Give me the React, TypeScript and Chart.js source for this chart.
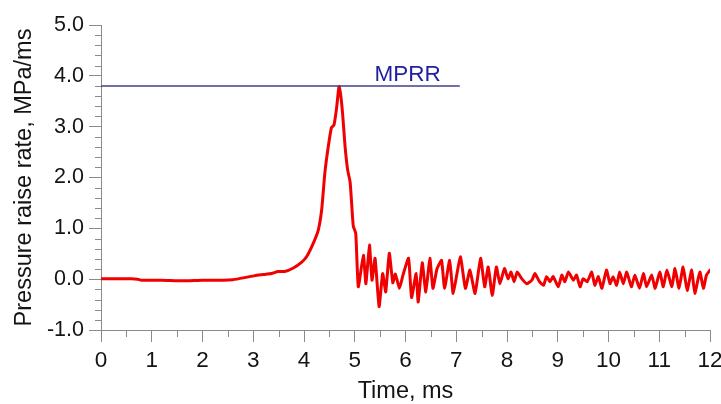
import { useEffect, useRef } from "react";
import { Chart, registerables } from "chart.js";

Chart.register(...registerables);

// Time axis (ms) and pressure raise rate (MPa/ms)
const timeMs = [
  0.0, 0.3, 0.6, 0.72, 0.8, 1.2, 1.6, 2.0, 2.4, 2.6, 2.83, 3.03, 3.2, 3.36, 3.49, 3.62, 3.79, 3.95,
  4.05, 4.18, 4.28, 4.35, 4.41, 4.47, 4.54, 4.59, 4.64, 4.69, 4.72, 4.76, 4.81, 4.86, 4.91, 4.97,
  5.02, 5.07, 5.17, 5.22, 5.29, 5.34, 5.40, 5.48, 5.55, 5.61, 5.68, 5.75, 5.80, 5.88, 5.95, 6.06,
  6.12, 6.21, 6.25, 6.33, 6.40, 6.48, 6.54, 6.62, 6.71, 6.77, 6.87, 6.94, 7.08, 7.18, 7.27, 7.37,
  7.48, 7.56, 7.63, 7.71, 7.79, 7.86, 7.95, 8.02, 8.08, 8.14, 8.20, 8.29, 8.39, 8.49, 8.55, 8.64,
  8.72, 8.78, 8.85, 8.91, 9.01, 9.08, 9.14, 9.21, 9.31, 9.37, 9.44, 9.50, 9.58, 9.67, 9.73, 9.80,
  9.87, 9.96, 10.03, 10.09, 10.16, 10.22, 10.29, 10.36, 10.45, 10.52, 10.61, 10.69, 10.75, 10.85,
  10.92, 11.01, 11.08, 11.15, 11.25, 11.31, 11.39, 11.47, 11.55, 11.64, 11.70, 11.80, 11.87, 11.93,
  12.0,
];
const riseRate = [
  0.01, 0.01, 0.01, 0.0, -0.02, -0.02, -0.03, -0.02, -0.02, -0.01, 0.03, 0.07, 0.09, 0.11, 0.15, 0.15, 0.22, 0.33,
  0.44, 0.7, 0.96, 1.38, 2.08, 2.55, 2.98, 3.03, 3.35, 3.79, 3.65, 3.26, 2.6, 2.15, 1.9, 1.05,
  0.9, -0.15, 0.47, -0.09, 0.67, -0.02, 0.41, -0.54, 0.11, -0.25, 0.51, -0.07, 0.1, -0.18, 0.08, 0.41,
  -0.36, 0.11, -0.45, 0.32, -0.25, 0.41, -0.18, 0.2, 0.37, -0.18, 0.37, -0.28, 0.44, -0.18, 0.18, -0.28,
  0.41, -0.15, 0.24, -0.32, 0.24, -0.09, 0.21, 0.01, 0.14, -0.05, 0.14, 0.01, -0.09, -0.02, 0.11, -0.05,
  -0.12, 0.05, -0.05, 0.05, -0.15, 0.08, -0.05, 0.14, -0.02, 0.08, -0.15, 0.01, -0.05, 0.14, -0.12, 0.05,
  -0.18, 0.18, -0.09, 0.05, -0.12, 0.14, -0.09, 0.14, -0.15, 0.08, -0.18, 0.11, -0.15, 0.08,
  -0.18, 0.14, -0.15, 0.18, -0.15, 0.21, -0.18, 0.24, -0.22, 0.18, -0.28, 0.14, -0.18, 0.08,
  0.18,
];

// MPRR reference line
const mprrTime = [0, 7.07];
const mprrRate = [3.8, 3.8];
const mprrLabel = "MPRR";
const mprrLabelTime = 6.04;

// Axis tick values
const xTickValues = [0, 1, 2, 3, 4, 5, 6, 7, 8, 9, 10, 11, 12];
const yTickValues = [-1, 0, 1, 2, 3, 4, 5];

const FONT = "'Liberation Sans', Arial, Helvetica, sans-serif";
const AXIS_COLOR = "#8a8a8a";
const TEXT_COLOR = "#141414";

export default function App() {
  const ref = useRef<HTMLCanvasElement>(null);

  useEffect(() => {
    const canvas = ref.current;
    if (!canvas) return;

    const minorTicks = {
      id: "minorTicks",
      afterDraw(chart: any) {
        const { ctx } = chart;
        const xs = chart.scales.x;
        const ys = chart.scales.y;
        const left = chart.chartArea.left;
        const bottom = chart.chartArea.bottom;
        ctx.save();
        ctx.strokeStyle = AXIS_COLOR;
        ctx.lineWidth = 1;
        ctx.beginPath();
        const yMin = yTickValues[0];
        const yMax = yTickValues[yTickValues.length - 1];
        for (let i = yMin * 5; i <= yMax * 5; i++) {
          if (i % 5 === 0) continue;
          const py = Math.round(ys.getPixelForValue(i / 5)) + 0.5;
          ctx.moveTo(left - 6, py);
          ctx.lineTo(left, py);
        }
        const xMin = xTickValues[0];
        const xMax = xTickValues[xTickValues.length - 1];
        for (let i = xMin * 2; i <= xMax * 2; i++) {
          if (i % 2 === 0) continue;
          const px = Math.round(xs.getPixelForValue(i / 2)) + 0.5;
          ctx.moveTo(px, bottom);
          ctx.lineTo(px, bottom + 7);
        }
        ctx.stroke();
        ctx.restore();
      },
    };

    const mprrText = {
      id: "mprrText",
      afterDatasetsDraw(chart: any) {
        const { ctx } = chart;
        const px = chart.scales.x.getPixelForValue(mprrLabelTime);
        const py = chart.scales.y.getPixelForValue(mprrRate[0]);
        ctx.save();
        ctx.fillStyle = "#1f1fa0";
        ctx.font = `22.5px ${FONT}`;
        ctx.textAlign = "center";
        ctx.textBaseline = "alphabetic";
        ctx.fillText(mprrLabel, px, py - 5);
        ctx.restore();
      },
    };

    const chart = new Chart(canvas, {
      type: "line",
      data: {
        datasets: [
          {
            label: "MPRR",
            data: mprrTime.map((t, i) => ({ x: t, y: mprrRate[i] })),
            borderColor: "#40408c",
            borderWidth: 1.5,
            pointRadius: 0,
            fill: false,
          },
          {
            label: "Pressure raise rate",
            data: timeMs.map((t, i) => ({ x: t, y: riseRate[i] })),
            borderColor: "#f00000",
            borderWidth: 3,
            pointRadius: 0,
            fill: false,
            tension: 0.15,
            borderJoinStyle: "round",
            borderCapStyle: "round",
          },
        ],
      },
      options: {
        animation: false,
        responsive: false,
        maintainAspectRatio: false,
        layout: { padding: { top: 25, right: 11, left: 0, bottom: 0 } },
        plugins: { legend: { display: false }, tooltip: { enabled: false } },
        scales: {
          x: {
            type: "linear",
            min: xTickValues[0],
            max: xTickValues[xTickValues.length - 1],
            afterBuildTicks: (scale: any) => {
              scale.ticks = xTickValues.map((v) => ({ value: v }));
            },
            afterFit: (scale: any) => {
              scale.height = 74;
              scale.paddingLeft = 0;
              scale.paddingRight = 0;
            },
            ticks: {
              font: { family: FONT, size: 22.5 },
              color: TEXT_COLOR,
              padding: 5,
              maxRotation: 0,
              autoSkip: false,
              callback: (v: any) => String(v),
            },
            grid: { drawOnChartArea: false, drawTicks: true, tickLength: 12, color: AXIS_COLOR },
            border: { display: true, color: AXIS_COLOR, width: 1 },
            title: {
              display: true,
              text: "Time, ms",
              font: { family: FONT, size: 23.5 },
              color: TEXT_COLOR,
              padding: { top: 0, bottom: -2 },
            },
          },
          y: {
            type: "linear",
            min: yTickValues[0],
            max: yTickValues[yTickValues.length - 1],
            afterBuildTicks: (scale: any) => {
              scale.ticks = yTickValues.map((v) => ({ value: v }));
            },
            afterFit: (scale: any) => {
              scale.width = 101;
              scale.paddingTop = 0;
              scale.paddingBottom = 0;
            },
            ticks: {
              font: { family: FONT, size: 21.5 },
              color: TEXT_COLOR,
              padding: 5,
              autoSkip: false,
              callback: (v: any) => Number(v).toFixed(1),
            },
            grid: { drawOnChartArea: false, drawTicks: true, tickLength: 12, color: AXIS_COLOR },
            border: { display: true, color: AXIS_COLOR, width: 1 },
            title: {
              display: true,
              text: "Pressure raise rate, MPa/ms",
              font: { family: FONT, size: 23.5 },
              color: TEXT_COLOR,
              padding: { top: 10, bottom: 0 },
            },
          },
        },
      },
      plugins: [minorTicks, mprrText],
    });

    return () => chart.destroy();
  }, []);

  return (
    <div style={{ position: "fixed", left: 0, top: 0, width: 721, height: 404, background: "#fff" }}>
      <canvas ref={ref} width={721} height={404} style={{ display: "block" }} />
    </div>
  );
}
